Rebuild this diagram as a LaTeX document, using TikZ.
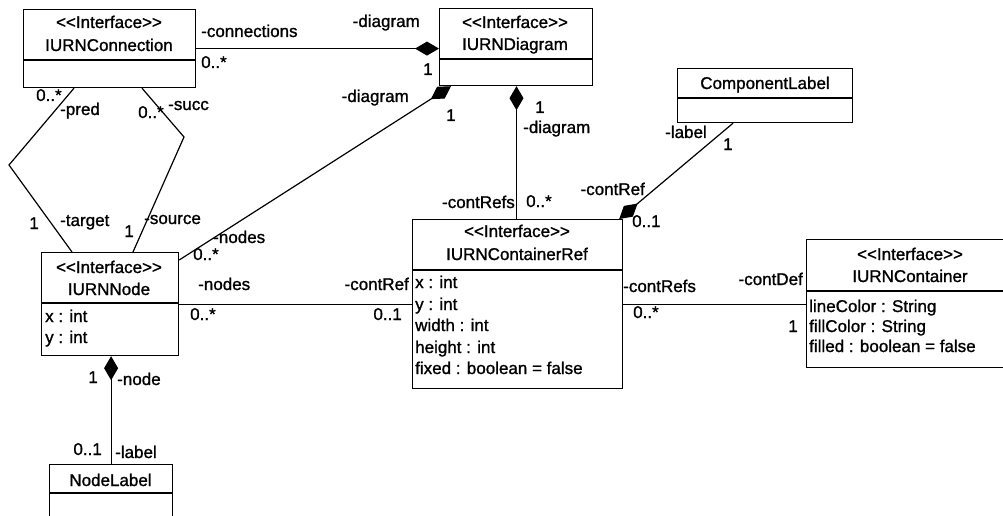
\documentclass[tikz,border=0pt]{standalone}
\usepackage{fontspec}
\newfontfamily\umlfont{Liberation Sans}[FakeBold=1.2]
\usetikzlibrary{arrows.meta,calc}
\begin{document}
\begin{tikzpicture}[x=1pt,y=-1pt,
  txt/.style={font=\umlfont\fontsize{17}{20}\selectfont, inner sep=0pt},
  lw/.style={txt, anchor=base west},
  le/.style={txt, anchor=base east},
  ttl/.style={txt, anchor=base},
  cls/.style={draw, line width=1.2pt, rectangle, anchor=north west, inner sep=0pt},
  sep/.style={line width=1.2pt},
  assoc/.style={line width=1.2pt},
  comp/.style={line width=1.2pt, -{Diamond[length=24pt,width=14pt]}}]
\useasboundingbox (0,0) rectangle (1003,516);
\clip (0,0) rectangle (1003,516);

% class boxes
\node[cls, minimum width=172pt, minimum height=78pt] (conn) at (23,9) {};
\draw[sep] (conn.west |- 0,60) -- (conn.east |- 0,60);
\node[ttl] (connS) at (109,28) {<<Interface>>};
\node[ttl] (connN) at (109,51) {IURNConnection};

\node[cls, minimum width=153pt, minimum height=77pt] (diag) at (439,8) {};
\draw[sep] (diag.west |- 0,59) -- (diag.east |- 0,59);
\node[ttl] (diagS) at (515,28) {<<Interface>>};
\node[ttl] (diagN) at (515,50) {IURNDiagram};

\node[cls, minimum width=175pt, minimum height=54pt] (clab) at (677,68) {};
\draw[sep] (clab.west |- 0,98) -- (clab.east |- 0,98);
\node[ttl] (clabN) at (765,89) {ComponentLabel};

\node[cls, minimum width=137pt, minimum height=103pt] (node) at (41,252) {};
\draw[sep] (node.west |- 0,303) -- (node.east |- 0,303);
\node[ttl] (nodeS) at (109,273) {<<Interface>>};
\node[ttl] (nodeN) at (109,295) {IURNNode};
\node[lw] (nodeA1) at (45,322) {x : int};
\node[lw] (nodeA2) at (45,343) {y : int};

\node[cls, minimum width=123pt, minimum height=70pt] (nlab) at (49,464) {};
\draw[sep] (nlab.west |- 0,493) -- (nlab.east |- 0,493);
\node[ttl] (nlabN) at (110.5,486) {NodeLabel};

\node[cls, minimum width=210pt, minimum height=169pt] (cref) at (412,219) {};
\draw[sep] (cref.west |- 0,270) -- (cref.east |- 0,270);
\node[ttl] (crefS) at (517,237) {<<Interface>>};
\node[ttl] (crefN) at (517,260) {IURNContainerRef};
\node[lw] (crefA1) at (415,288) {x : int};
\node[lw] (crefA2) at (415,310) {y : int};
\node[lw] (crefA3) at (415,331) {width : int};
\node[lw] (crefA4) at (415,353) {height : int};
\node[lw] (crefA5) at (415,374) {fixed : boolean = false};

\node[cls, minimum width=208pt, minimum height=128pt] (cont) at (806,239) {};
\draw[sep] (cont.west |- 0,291) -- (cont.east |- 0,291);
\node[ttl] (contS) at (910,260) {<<Interface>>};
\node[ttl] (contN) at (910,282) {IURNContainer};
\node[lw] (contA1) at (809,312) {lineColor : String};
\node[lw] (contA2) at (809,332) {fillColor : String};
\node[lw] (contA3) at (809,352) {filled : boolean = false};

% bend points of the self-referencing associations
\coordinate (predBend) at (9,165);
\coordinate (succBend) at (184,137);

% connectors
\draw[comp] (conn.east) -- (conn.east -| diag.west);
\draw[assoc] ($(conn.south west)+(51,0)$) -- (predBend) -- ($(node.north west)+(31,0)$);
\draw[assoc] ($(conn.south west)+(119,0)$) -- (succBend) -- ($(node.north west)+(92,0)$);
\draw[comp] ($(node.north east)+(0,8)$) -- ($(diag.south west)+(12,0)$);
\draw[comp] ($(cref.north west)+(104.5,0)$) -- ($(diag.south west)+(77.5,0)$);
\draw[comp] ($(clab.south west)+(56,0)$) -- ($(cref.north east)+(-4,0)$);
\draw[assoc] (node.east) -- (node.east -| cref.west);
\draw[assoc] (cref.east) -- (cref.east -| cont.west);
\draw[comp] (nlab.north) -- (nlab.north |- node.south);

% role names and multiplicities
\node[lw] (c1) at (201,37) {-connections};
\node[lw] (c2) at (201,68) {0..*};
\node[le] (c3) at (420,27) {-diagram};
\node[lw] (c4) at (423,75) {1};

\node[lw] (p1) at (36,101) {0..*};
\node[lw] (p2) at (60,115) {-pred};
\node[le] (p3) at (39,229) {1};
\node[lw] (p4) at (60,226) {-target};

\node[lw] (s1) at (138,118) {0..*};
\node[lw] (s2) at (168,110) {-succ};
\node[le] (s3) at (134,237) {1};
\node[lw] (s4) at (144,224) {-source};

\node[lw] (n1) at (213,243) {-nodes};
\node[lw] (n2) at (193,260) {0..*};
\node[le] (n3) at (409,102) {-diagram};
\node[lw] (n4) at (446,121) {1};

\node[lw] (v1) at (535,113) {1};
\node[lw] (v2) at (523,133) {-diagram};
\node[le] (v3) at (515,208) {-contRefs};
\node[lw] (v4) at (526,207) {0..*};

\node[lw] (k1) at (665,138) {-label};
\node[lw] (k2) at (723,150) {1};
\node[le] (k3) at (645,195) {-contRef};
\node[lw] (k4) at (632,227) {0..1};

\node[lw] (r1) at (198,290) {-nodes};
\node[lw] (r2) at (190,320) {0..*};
\node[le] (r3) at (409,290) {-contRef};
\node[le] (r4) at (402,320) {0..1};

\node[lw] (d1) at (623,292) {-contRefs};
\node[lw] (d2) at (633,318) {0..*};
\node[le] (d3) at (803,285) {-contDef};
\node[le] (d4) at (798,332) {1};

\node[le] (e1) at (98,383) {1};
\node[lw] (e2) at (117,385) {-node};
\node[le] (e3) at (102,455) {0..1};
\node[lw] (e4) at (115,458) {-label};
\end{tikzpicture}
\end{document}
